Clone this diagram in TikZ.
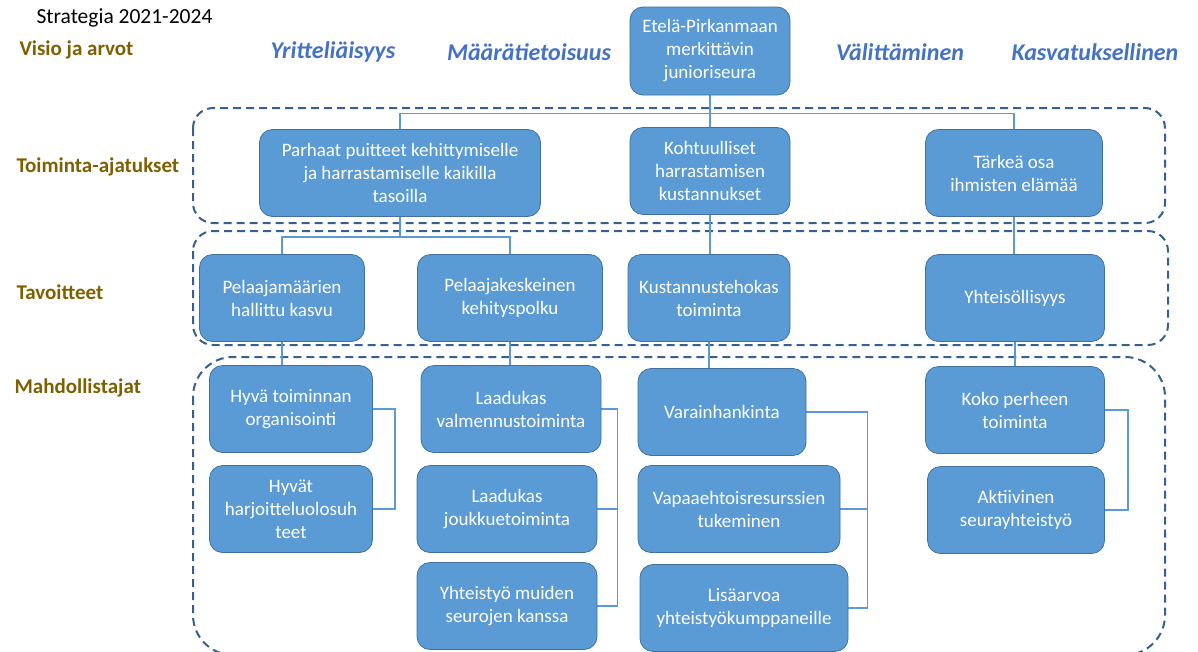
\documentclass[tikz,border=0pt]{standalone}
\usepackage{fontspec}
\setmainfont{Carlito}
\usetikzlibrary{backgrounds}
\definecolor{boxfill}{RGB}{91,155,213}
\definecolor{boxline}{RGB}{65,113,156}
\definecolor{linkblue}{RGB}{91,155,213}
\definecolor{dashblue}{RGB}{55,96,146}
\definecolor{levelbrown}{RGB}{127,96,0}
\definecolor{valueblue}{RGB}{68,114,196}
\tikzset{
  box/.style={draw=boxline, line width=0.8pt, fill=boxfill, rounded corners=13pt,
    text=white, align=center, minimum height=87pt, inner sep=2pt,
    font=\fontsize{19}{23}\selectfont},
  link/.style={draw=linkblue, line width=1.5pt},
  zone/.style={draw=dashblue, line width=2pt, dash pattern=on 8pt off 5pt},
  level/.style={anchor=west, text=levelbrown, font=\fontsize{21}{25}\selectfont\bfseries},
  value/.style={text=valueblue, font=\fontsize{24}{28}\selectfont\bfseries\itshape}
}
\begin{document}
\begin{tikzpicture}[x=1pt,y=-1pt]
    \useasboundingbox (0,0) rectangle (1198,651);
    \clip (0,0) rectangle (1198,651);
    % otsikot ja tasot
    \node[anchor=west, font=\fontsize{21.5}{25}\selectfont] (title) at (33,18) {Strategia 2021-2024};
    \node[level] (visio) at (16,50) {Visio ja arvot};
    \node[level] (toiminta) at (13,167) {Toiminta-ajatukset};
    \node[level] (tavoitteet) at (13,292) {Tavoitteet};
    \node[level] (mahd) at (11,388) {Mahdollistajat};
    % arvot
    \node[value] (yritt) at (333,52) {Yritteliäisyys};
    \node[value] (maara) at (529,52) {Määrätietoisuus};
    \node[value] (valitt) at (900,52) {Välittäminen};
    \node[value] (kasvat) at (1095,52) {Kasvatuksellinen};
    % visio
    \node[box, minimum width=160pt, minimum height=88pt] (seura) at (710,51) {Etelä-Pirkanmaan\\merkittävin\\junioriseura};
    % toiminta-ajatukset
    \node[box, minimum width=281pt] (puitteet) at (400,173) {Parhaat puitteet kehittymiselle\\ ja harrastamiselle kaikilla\\tasoilla};
    \node[box, minimum width=160pt] (kustannus) at (710,171) {Kohtuulliset\\harrastamisen\\kustannukset};
    \node[box, minimum width=177pt] (tarkea) at (1014,173) {Tärkeä osa\\ihmisten elämää};
    % tavoitteet
    \node[box, minimum width=165pt] (pmaara) at (282,298) {Pelaajamäärien\\hallittu kasvu};
    \node[box, minimum width=185pt] (ppolku) at (510,298) {Pelaajakeskeinen\\kehityspolku};
    \node[box, minimum width=162pt] (tehokas) at (709,298) {Kustannustehokas\\toiminta};
    \node[box, minimum width=179pt] (yhteiso) at (1015,298) {Yhteisöllisyys};
    % mahdollistajat
    \node[box, minimum width=163pt] (organ) at (291,409) {Hyvä toiminnan\\organisointi};
    \node[box, minimum width=163pt] (olosuh) at (291,509) {Hyvät\\harjoitteluolosuh\\teet};
    \node[box, minimum width=180pt] (valmennus) at (511,409) {Laadukas\\valmennustoiminta};
    \node[box, minimum width=180pt] (joukkue) at (507,509) {Laadukas\\joukkuetoiminta};
    \node[box, minimum width=180pt] (muut) at (507,606) {Yhteistyö muiden\\seurojen kanssa};
    \node[box, minimum width=168pt] (varat) at (722,412) {Varainhankinta};
    \node[box, minimum width=202pt] (vapaa) at (739,509) {Vapaaehtoisresurssien\\tukeminen};
    \node[box, minimum width=208pt] (lisa) at (744,608) {Lisäarvoa\\yhteistyökumppaneille};
    \node[box, minimum width=179pt] (perhe) at (1015,410) {Koko perheen\\toiminta};
    \node[box, minimum width=177pt] (aktiivi) at (1016,510) {Aktiivinen\\seurayhteistyö};
    \begin{pgfonlayer}{background}
        % katkoviivakehykset
        \draw[zone, rounded corners=20pt] (193,108) rectangle (1165,223);
        \draw[zone, rounded corners=20pt] (193,231) rectangle (1168,345);
        \draw[zone, rounded corners=40pt] (193,357) rectangle (1165,655);
        % yhdysviivat
        \draw[link] (seura.south) -- ++(0,18) coordinate (bus1);
        \draw[link] (puitteet.north) |- (bus1) -| (tarkea.north);
        \draw[link] (bus1) -- (kustannus.north);
        \draw[link] (puitteet.south) -- ++(0,20) coordinate (bus2);
        \draw[link] (pmaara.north) |- (bus2) -| (ppolku.north);
        \draw[link] (kustannus.south) -- (kustannus.south |- tehokas.north);
        \draw[link] (tarkea.south) -- (tarkea.south |- yhteiso.north);
        \draw[link] (pmaara.south) -- (pmaara.south |- organ.north);
        \draw[link] (ppolku.south) -- (ppolku.south |- valmennus.north);
        \draw[link] (tehokas.south) -- (tehokas.south |- varat.north);
        \draw[link] (yhteiso.south) -- (yhteiso.south |- perhe.north);
        \draw[link] (organ.east) -- ++(22,0) |- (olosuh.east);
        \draw[link] (valmennus.east) -- ++(16,0) coordinate (k2) |- (muut.east);
        \draw[link] (joukkue.east) -- (joukkue.east -| k2);
        \draw[link] (varat.east) -- ++(61,0) coordinate (k3) |- (lisa.east);
        \draw[link] (vapaa.east) -- (vapaa.east -| k3);
        \draw[link] (perhe.east) -- ++(23,0) |- (aktiivi.east);
    \end{pgfonlayer}
\end{tikzpicture}
\end{document}
